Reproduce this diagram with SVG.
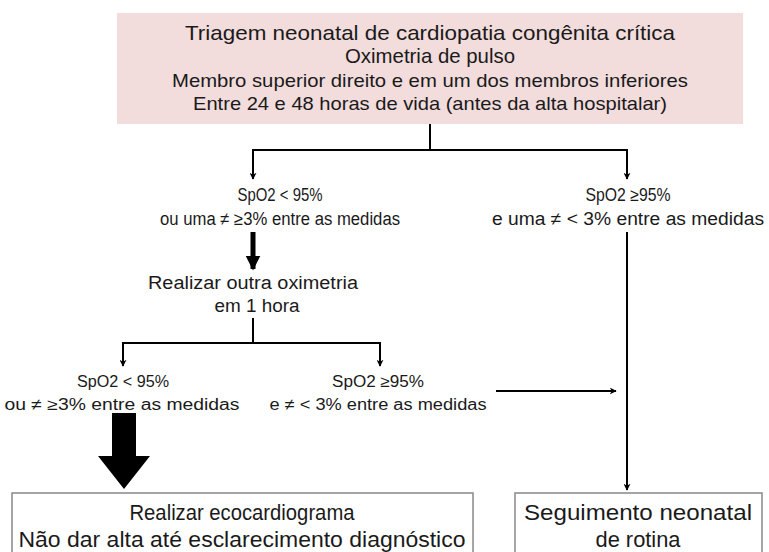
<svg xmlns="http://www.w3.org/2000/svg" width="769" height="552" viewBox="0 0 769 552">
<defs>
<style>
text{font-family:"Liberation Sans",Arial,sans-serif;fill:#1a1a1a;text-anchor:middle}
.t1{font-size:21px}
.t2{font-size:19px}
.t3{font-size:18px}
.t5{font-size:16px}
.t4{font-size:22px}
.ln{stroke:#000;stroke-width:2;fill:none}
.box{fill:#fff;stroke:#888;stroke-width:1.5}
</style>
<marker id="ah" viewBox="0 0 10 10" refX="9" refY="5" markerWidth="7" markerHeight="7" orient="auto" markerUnits="userSpaceOnUse">
<path d="M0,0 L10,5 L0,10 L3,5 z" fill="#000"/>
</marker>
<marker id="ahb" viewBox="0 0 10 10" refX="9" refY="5" markerWidth="3" markerHeight="3" orient="auto">
<path d="M0,0 L10,5 L0,10 z" fill="#000"/>
</marker>
</defs>
<rect width="769" height="552" fill="#fff"/>
<g id="top">
<rect x="117" y="13" width="626" height="111" fill="#f2dcdc"/>
<text class="t1" x="430" y="40" textLength="490" lengthAdjust="spacingAndGlyphs">Triagem neonatal de cardiopatia congênita crítica</text>
<text class="t1" x="430" y="63" textLength="170" lengthAdjust="spacingAndGlyphs">Oximetria de pulso</text>
<text class="t2" x="430" y="87" textLength="516" lengthAdjust="spacingAndGlyphs">Membro superior direito e em um dos membros inferiores</text>
<text class="t2" x="430" y="110" textLength="474" lengthAdjust="spacingAndGlyphs">Entre 24 e 48 horas de vida (antes da alta hospitalar)</text>
</g>
<g id="left1">
<text class="t3" x="280" y="201" textLength="85" lengthAdjust="spacingAndGlyphs">SpO2 &lt; 95%</text>
<text class="t3" x="280" y="225" textLength="240" lengthAdjust="spacingAndGlyphs">ou uma ≠ ≥3% entre as medidas</text>
</g>
<g id="right1">
<text class="t3" x="628" y="201" textLength="85" lengthAdjust="spacingAndGlyphs">SpO2 ≥95%</text>
<text class="t3" x="628" y="225" textLength="272" lengthAdjust="spacingAndGlyphs">e uma ≠ &lt; 3% entre as medidas</text>
</g>
<g id="repeat">
<text class="t3" x="253" y="289" textLength="210" lengthAdjust="spacingAndGlyphs">Realizar outra oximetria</text>
<text class="t3" x="257" y="312" textLength="85" lengthAdjust="spacingAndGlyphs">em 1 hora</text>
</g>
<g id="left2">
<text class="t5" x="123" y="387" textLength="92" lengthAdjust="spacingAndGlyphs">SpO2 &lt; 95%</text>
<text class="t5" x="122" y="410" textLength="235" lengthAdjust="spacingAndGlyphs">ou ≠ ≥3% entre as medidas</text>
</g>
<g id="right2">
<text class="t5" x="378" y="387" textLength="92" lengthAdjust="spacingAndGlyphs">SpO2 ≥95%</text>
<text class="t5" x="378" y="410" textLength="217" lengthAdjust="spacingAndGlyphs">e ≠ &lt; 3% entre as medidas</text>
</g>
<g id="echo">
<rect class="box" x="12" y="493" width="461" height="70"/>
<text class="t4" x="242" y="520" textLength="225" lengthAdjust="spacingAndGlyphs">Realizar ecocardiograma</text>
<text class="t4" x="242" y="547" textLength="447" lengthAdjust="spacingAndGlyphs">Não dar alta até esclarecimento diagnóstico</text>
</g>
<g id="routine">
<rect class="box" x="515" y="493" width="247" height="70"/>
<text class="t4" x="638" y="520" textLength="228" lengthAdjust="spacingAndGlyphs">Seguimento neonatal</text>
<text class="t4" x="638" y="547" textLength="85" lengthAdjust="spacingAndGlyphs">de rotina</text>
</g>
<g id="connectors">
<path class="ln" d="M430,124 V150 M253,150 H627"/>
<path class="ln" d="M253,149 V179" marker-end="url(#ah)"/>
<path class="ln" d="M627,149 V179" marker-end="url(#ah)"/>
<path d="M253,232 V269" stroke="#000" stroke-width="5" marker-end="url(#ahb)"/>
<path class="ln" d="M253,318 V343 M123,343 H380"/>
<path class="ln" d="M123,342 V366" marker-end="url(#ah)"/>
<path class="ln" d="M380,342 V366" marker-end="url(#ah)"/>
<path class="ln" d="M496,391 H616" marker-end="url(#ah)"/>
<path class="ln" d="M627,232 V490" marker-end="url(#ah)"/>
<path d="M112,413 H136 V456 H150 L124,489 L98,456 H112 Z" fill="#000"/>
</g>
</svg>
